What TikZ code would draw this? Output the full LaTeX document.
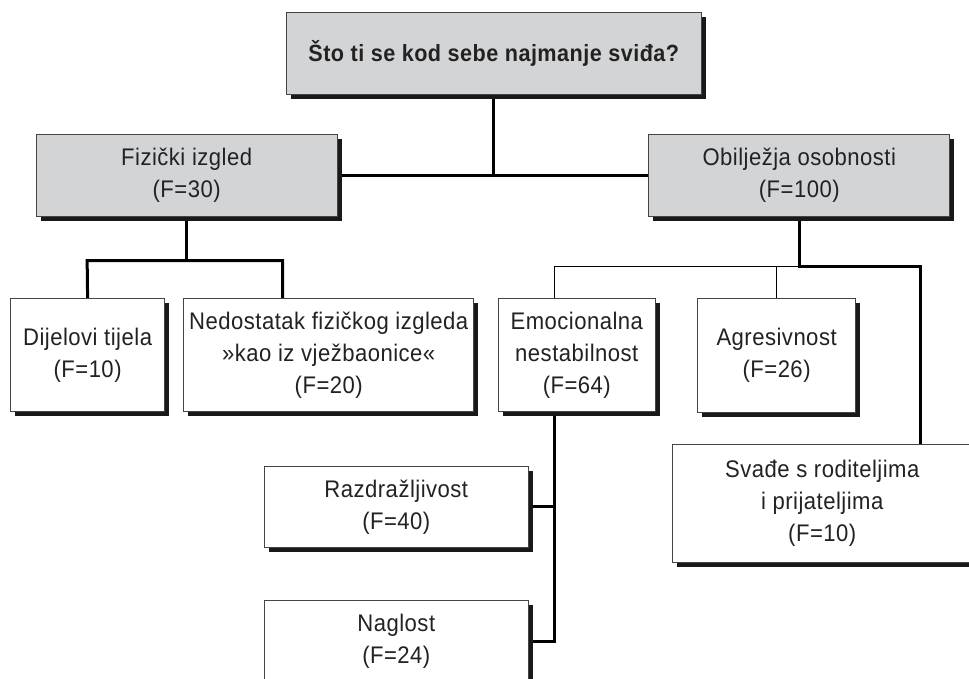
\documentclass[tikz,border=0pt]{standalone}
\usepackage{fontspec}
\setmainfont{Liberation Sans}[FakeStretch=0.92, LetterSpace=2]
\usetikzlibrary{shadows,backgrounds}
\definecolor{boxgray}{HTML}{D3D4D6}
\definecolor{txt}{HTML}{222222}
\definecolor{edge}{HTML}{444444}
\tikzset{
  box/.style={draw=edge, line width=0.9pt, fill=white, anchor=north west,
    align=center, inner sep=0pt, text=txt,
    font=\fontsize{24}{32}\selectfont,
    drop shadow={shadow xshift=4.5pt, shadow yshift=-4.5pt, fill=black!90, opacity=1}},
  graybox/.style={box, fill=boxgray},
  thk/.style={line width=3pt, black},
  thn/.style={line width=1.4pt, black}
}
\begin{document}
\begin{tikzpicture}[x=1pt,y=-1pt]
\clip (0,0) rectangle (969,679);
\begin{scope}[on background layer]
\fill[white] (0,0) rectangle (969,679);
\end{scope}
% nodes
\node[graybox, minimum width=415.3pt, minimum height=81.7pt, font=\fontsize{23.5}{32}\selectfont\bfseries] (top) at (285.7,12.3) {Što ti se kod sebe najmanje sviđa?};
\node[graybox, minimum width=301pt, minimum height=81.7pt] (fiz) at (35.7,134) {Fizički izgled\\(F=30)};
\node[graybox, minimum width=301pt, minimum height=81.7pt] (obi) at (648.3,134) {Obilježja osobnosti\\(F=100)};
\node[box, minimum width=154.3pt, minimum height=112.7pt] (dij) at (10,298.3) {Dijelovi tijela\\(F=10)};
\node[box, minimum width=290pt, minimum height=112.7pt] (ned) at (183.3,298.3) {Nedostatak fizičkog izgleda\\»kao iz vježbaonice«\\(F=20)};
\node[box, minimum width=157.3pt, minimum height=112.4pt] (emo) at (497.7,298.3) {Emocionalna\\nestabilnost\\(F=64)};
\node[box, minimum width=157.7pt, minimum height=114pt] (agr) at (697.3,298.3) {Agresivnost\\(F=26)};
\node[box, minimum width=299pt, minimum height=117.4pt] (sva) at (672.3,444.3) {Svađe s roditeljima\\i prijateljima\\(F=10)};
\node[box, minimum width=263.7pt, minimum height=81.6pt] (raz) at (264,465.7) {Razdražljivost\\(F=40)};
\node[box, minimum width=263.7pt, minimum height=81.6pt] (nag) at (264,600) {Naglost\\(F=24)};
% junction coordinates
\coordinate (fjL) at (87.15,260.7);
\coordinate (fjR) at (282.7,260.7);
\coordinate (ej) at (554.3,266.7);
\coordinate (sj) at (920.7,266.7);
% connectors
\begin{scope}[on background layer]
\draw[thk] (top.south) -- (top.south |- fiz.east);
\draw[thk] (fiz.east) -- (obi.west);
\draw[thk] (fiz.south) -- (fiz.south |- fjL);
\draw[thk] (dij.north) -- (fjL) -- (fjR) -- (fjR |- ned.north);
\draw[thk] (obi.south) -- (obi.south |- sj) -- (sj) -- (sj |- sva.north);
\draw[thn] (obi.south |- ej) -- (ej) -- (ej |- emo.north);
\draw[thn] (agr.north) -- (agr.north |- ej);
\draw[thk] (ej |- emo.south) -- (ej |- nag.east) -- (nag.east);
\draw[thk] (raz.east) -- (ej |- raz.east);
\end{scope}
\end{tikzpicture}
\end{document}
